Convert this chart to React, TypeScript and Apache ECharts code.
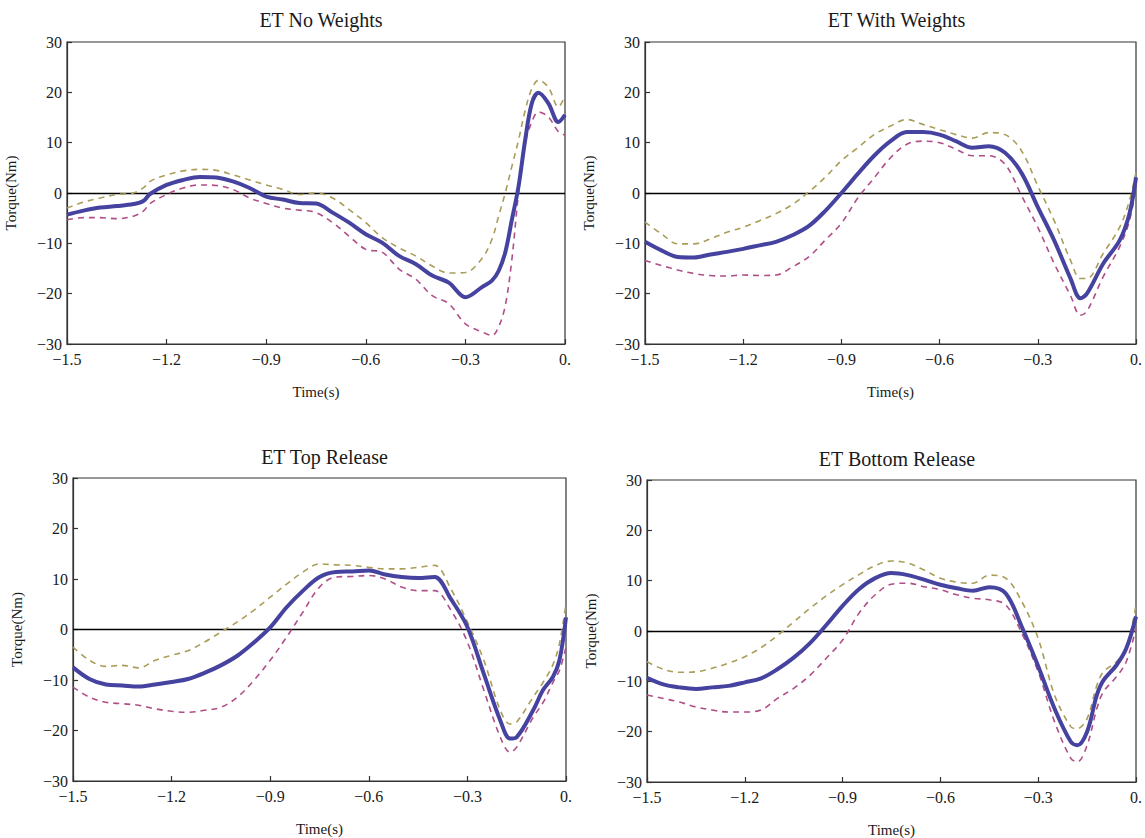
import React, { useEffect, useRef } from "react";
import * as echarts from "echarts";

// ---------- Data ----------
const titles = ["ET No Weights", "ET With Weights", "ET Top Release", "ET Bottom Release"];

const time1 = [-1.5,-1.45,-1.4,-1.35,-1.3,-1.27,-1.25,-1.2,-1.15,-1.1,-1.05,-1.0,-0.95,-0.9,-0.85,-0.8,-0.75,-0.7,-0.65,-0.6,-0.55,-0.5,-0.45,-0.4,-0.35,-0.3,-0.25,-0.22,-0.2,-0.18,-0.16,-0.14,-0.12,-0.1,-0.08,-0.05,-0.02,0];
const mean1 = [-4.3,-3.5,-2.9,-2.6,-2.2,-1.6,-0.2,1.6,2.6,3.2,3.1,2.3,1.0,-0.7,-1.3,-2.0,-2.1,-3.9,-5.9,-8.2,-9.9,-12.5,-14.1,-16.4,-17.8,-20.7,-18.7,-17.4,-15.5,-11.8,-5.3,1.3,10.5,17.8,19.9,17.8,14.1,15.5];
const upper1 = [-3.0,-1.8,-1.0,-0.3,0,1.0,2.3,3.6,4.4,4.7,4.5,3.6,2.6,1.6,0.7,-0.3,0,-1.0,-3.3,-5.9,-8.9,-10.9,-12.5,-14.5,-15.9,-15.8,-13.0,-9.2,-4.6,0,5.3,10.5,16.4,20.7,22.4,21,17.1,19.4];
const lower1 = [-5.3,-4.9,-4.9,-5.1,-4.6,-3.6,-2.1,-0.3,1.0,1.6,1.5,0.7,-1.0,-2.1,-3.0,-3.4,-3.9,-5.9,-8.6,-11.2,-11.8,-15.1,-17.1,-20.4,-22,-26,-27.6,-28.3,-26.6,-22.4,-13.2,0,9.9,14.1,16.1,15.1,12.2,11.5];

const time2 = [-1.5,-1.45,-1.4,-1.35,-1.3,-1.25,-1.2,-1.15,-1.1,-1.05,-1.0,-0.95,-0.9,-0.85,-0.8,-0.75,-0.7,-0.65,-0.6,-0.55,-0.5,-0.45,-0.4,-0.35,-0.3,-0.25,-0.2,-0.17,-0.15,-0.1,-0.05,-0.02,0];
const mean2 = [-9.7,-11.4,-12.7,-12.8,-12.2,-11.7,-11.1,-10.4,-9.7,-8.4,-6.6,-3.6,0.0,3.8,7.4,10.3,12.1,12.1,11.6,10.3,9.0,9.3,8.0,4.0,-2.8,-9.4,-17,-20.9,-20,-14,-9.4,-4.1,3.1];
const upper2 = [-5.8,-8.1,-10.1,-10.1,-9.1,-7.8,-6.8,-5.5,-4.1,-2.3,0.2,3.1,6.4,9.0,11.6,13.3,14.6,13.6,12.6,11.6,10.9,12.0,11.6,8.4,1.4,-5.5,-13.4,-17,-17,-12,-6.8,-1.5,4.1];
const lower2 = [-13.4,-14.4,-15.3,-16,-16.4,-16.5,-16.3,-16.4,-16.3,-14.7,-12.7,-9.4,-6.0,-1.0,3.0,7.0,9.7,10.3,10.0,8.7,7.4,7.4,5.7,-0.5,-6.8,-14,-20.4,-24.3,-23.5,-16.6,-10.7,-5.5,1.1];

const time3 = [-1.5,-1.45,-1.4,-1.35,-1.3,-1.25,-1.2,-1.15,-1.1,-1.05,-1.0,-0.95,-0.9,-0.85,-0.8,-0.75,-0.7,-0.65,-0.6,-0.55,-0.5,-0.45,-0.4,-0.35,-0.3,-0.25,-0.2,-0.17,-0.15,-0.1,-0.07,-0.04,-0.02,0];
const mean3 = [-7.5,-9.8,-10.9,-11.1,-11.3,-10.9,-10.4,-9.8,-8.6,-7.1,-5.2,-2.6,0.4,4.4,7.7,10.4,11.4,11.5,11.7,10.9,10.4,10.2,10.4,6.0,0.5,-8.8,-18,-21.6,-21.3,-16,-12,-9.4,-6.1,2.4];
const upper3 = [-3.5,-6.1,-7.3,-7.1,-7.6,-6.1,-5.1,-4.2,-2.5,-0.5,1.5,3.8,6.4,9.0,11.4,13.0,12.8,12.7,12.3,12.0,12.0,12.3,12.7,8.0,1.5,-6.1,-16,-18.7,-18.3,-13.4,-10.5,-7,-2.8,5.1];
const lower3 = [-11.4,-13.4,-14.4,-14.7,-15.0,-15.7,-16.2,-16.4,-16,-15.4,-13.4,-10.1,-6.1,-1.5,3.5,8.4,10.4,10.5,10.7,10.0,8.4,7.7,7.7,3.8,-2.5,-12,-21.3,-24.3,-23.3,-17.4,-14.5,-10.5,-8.1,-3.5];

const time4 = [-1.5,-1.45,-1.4,-1.35,-1.3,-1.25,-1.2,-1.15,-1.1,-1.05,-1.0,-0.95,-0.9,-0.85,-0.8,-0.75,-0.7,-0.65,-0.6,-0.55,-0.5,-0.45,-0.4,-0.35,-0.3,-0.25,-0.2,-0.18,-0.15,-0.12,-0.1,-0.06,-0.03,0];
const mean4 = [-9.3,-10.6,-11.2,-11.5,-11.2,-10.9,-10.2,-9.4,-7.6,-5.3,-2.4,1.2,5.0,8.3,10.5,11.5,11.1,10.2,9.2,8.5,8.0,8.7,7.5,0.8,-7,-15.4,-22,-22.7,-20,-12.7,-9.8,-6.8,-3.5,2.9];
const upper4 = [-6.1,-7.6,-8.2,-8.1,-7.4,-6.4,-5.1,-3.3,-0.9,1.8,4.5,7.0,9.2,11.2,13.0,13.9,13.5,12.1,10.5,9.7,9.5,11.1,10.5,5.8,-1.5,-12.7,-19,-19.4,-17.4,-10.8,-8.1,-6.1,-3.5,5.2];
const lower4 = [-12.7,-13.4,-14.1,-15.1,-15.7,-16.1,-16.1,-15.7,-13.4,-11.4,-8.8,-5.4,-1.8,3.5,7.2,9.3,9.5,8.8,8.2,7.2,6.5,6.2,5.2,-0.5,-8.1,-18,-25.3,-26,-22.7,-15.4,-12.1,-9.1,-6.1,0.5];

const yTicks = { min: -30, max: 30, step: 10 };
const xTicks = { min: -1.5, max: 0, step: 0.3 };

// ---------- Layout / style ----------
const FONT = "'Liberation Serif', 'DejaVu Serif', serif";
const grids = [
  { left: 67, top: 42, width: 498, height: 302 },
  { left: 645, top: 42, width: 493, height: 302 },
  { left: 73, top: 478, width: 493, height: 303 },
  { left: 647, top: 480, width: 490, height: 302 },
];
const titleTops = [5, 5, 442, 444];
const COLORS = { mean: "#45439f", upper: "#a99d58", lower: "#b04e88" };

const panels = [
  { t: time1, m: mean1, u: upper1, l: lower1 },
  { t: time2, m: mean2, u: upper2, l: lower2 },
  { t: time3, m: mean3, u: upper3, l: lower3 },
  { t: time4, m: mean4, u: upper4, l: lower4 },
];

const pairs = (t: number[], v: number[]) => t.map((x, i) => [x, v[i]]);
const minus = (s: string) => s.replace("-", "\u2212");

function buildOption() {
  const title: any[] = [];
  const grid: any[] = [];
  const xAxis: any[] = [];
  const yAxis: any[] = [];
  const series: any[] = [];
  panels.forEach((p, i) => {
    const g = grids[i];
    title.push({
      text: titles[i],
      left: g.left + g.width / 2,
      textAlign: "center",
      top: titleTops[i],
      textStyle: { fontFamily: FONT, fontSize: 20, fontWeight: "normal", color: "#1a1a1a" },
    });
    grid.push({ ...g, show: true, borderColor: "#333", borderWidth: 1.2, backgroundColor: "#fff" });
    xAxis.push({
      gridIndex: i,
      type: "value",
      min: xTicks.min,
      max: xTicks.max,
      interval: xTicks.step,
      name: "Time(s)",
      nameLocation: "middle",
      nameGap: 40,
      nameTextStyle: { fontFamily: FONT, fontSize: 15, color: "#1a1a1a" },
      axisLine: { show: true, onZero: false, lineStyle: { color: "#333", width: 1.2 } },
      axisTick: { show: true, inside: true, length: 5, lineStyle: { color: "#333", width: 1.2 } },
      splitLine: { show: false },
      axisLabel: {
        fontFamily: FONT,
        fontSize: 16,
        color: "#1a1a1a",
        margin: 7,
        formatter: (v: number) => (Math.abs(v) < 1e-9 ? "0." : minus(v.toFixed(1))),
      },
    });
    yAxis.push({
      gridIndex: i,
      type: "value",
      min: yTicks.min,
      max: yTicks.max,
      interval: yTicks.step,
      name: "Torque(Nm)",
      nameLocation: "middle",
      nameGap: 49,
      nameRotate: 90,
      nameTextStyle: { fontFamily: FONT, fontSize: 15, color: "#1a1a1a" },
      axisLine: { show: true, onZero: false, lineStyle: { color: "#333", width: 1.2 } },
      axisTick: { show: true, inside: true, length: 5, lineStyle: { color: "#333", width: 1.2 } },
      splitLine: { show: false },
      axisLabel: {
        fontFamily: FONT,
        fontSize: 16,
        color: "#1a1a1a",
        margin: 5,
        formatter: (v: number) => minus(String(v)),
      },
    });
    const base = {
      type: "line",
      xAxisIndex: i,
      yAxisIndex: i,
      showSymbol: false,
      symbol: "none",
      smooth: 0.35,
      silent: true,
    };
    series.push({
      ...base,
      name: "upper",
      data: pairs(p.t, p.u),
      lineStyle: { color: COLORS.upper, width: 1.6, type: [6, 5] },
      z: 2,
    });
    series.push({
      ...base,
      name: "lower",
      data: pairs(p.t, p.l),
      lineStyle: { color: COLORS.lower, width: 1.6, type: [6, 5] },
      z: 2,
    });
    series.push({
      ...base,
      name: "mean",
      data: pairs(p.t, p.m),
      lineStyle: { color: COLORS.mean, width: 4 },
      z: 3,
      markLine: {
        silent: true,
        symbol: ["none", "none"],
        label: { show: false },
        lineStyle: { color: "#000", width: 1.3, type: "solid" },
        data: [{ yAxis: 0 }],
        z: 1,
      },
    });
  });
  return { animation: false, backgroundColor: "#fff", title, grid, xAxis, yAxis, series };
}

export default function App() {
  const ref = useRef<HTMLDivElement>(null);
  useEffect(() => {
    if (!ref.current) return;
    const chart = echarts.init(ref.current, undefined, { renderer: "svg" });
    chart.setOption(buildOption() as any);
    return () => chart.dispose();
  }, []);
  return (
    <div
      ref={ref}
      style={{ position: "fixed", left: 0, top: 0, width: 1145, height: 838, background: "#fff" }}
    />
  );
}
